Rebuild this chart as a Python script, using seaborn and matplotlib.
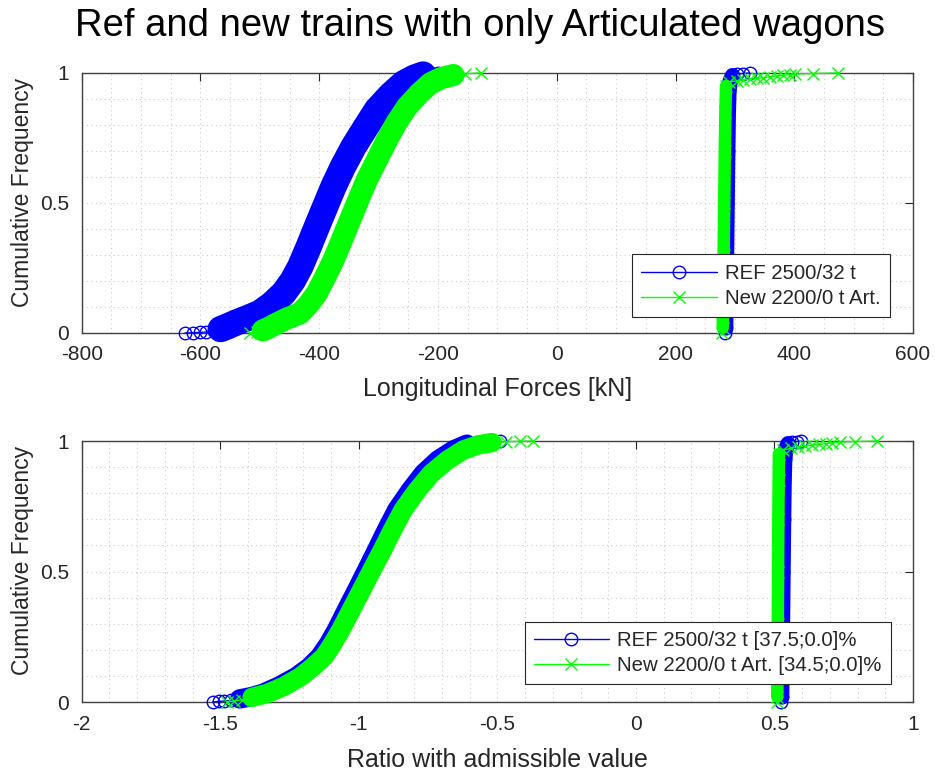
import matplotlib
matplotlib.use("Agg")
import matplotlib.pyplot as plt
from matplotlib.ticker import MultipleLocator, FuncFormatter
import pandas as pd
import seaborn as sns

# ---------------------------------------------------------------------------
# Cumulative frequency curves: value vs. cumulative frequency (0..1)
# ---------------------------------------------------------------------------
# Longitudinal forces [kN] - compression side
ref_comp_force = [-626, -612, -600, -590, -578, -566, -556, -540, -520, -500,
                  -480, -460, -445, -432, -418, -404, -390, -376, -360, -342,
                  -322, -303, -280, -258, -240, -225, -212, -200]
ref_comp_force_cf = [0.000, 0.001, 0.002, 0.004, 0.008, 0.015, 0.024, 0.040,
                     0.058, 0.077, 0.110, 0.153, 0.200, 0.255, 0.330, 0.409,
                     0.486, 0.563, 0.640, 0.717, 0.790, 0.858, 0.915, 0.960,
                     0.982, 0.994, 0.999, 1.000]
new_comp_force = [-516, -505, -495, -485, -471, -455, -443, -432, -418, -404,
                  -390, -376, -362, -348, -334, -320, -303, -286, -270, -252,
                  -232, -213, -195, -174, -155, -128]
new_comp_force_cf = [0.000, 0.004, 0.010, 0.020, 0.037, 0.055, 0.066, 0.076,
                     0.110, 0.153, 0.215, 0.280, 0.357, 0.435, 0.512, 0.588,
                     0.665, 0.742, 0.808, 0.870, 0.920, 0.960, 0.980, 0.992,
                     0.997, 1.000]

# Longitudinal forces [kN] - traction side
ref_trac_force = [284, 284.5, 285, 286, 287, 288, 289, 290, 292, 296, 303, 314, 325]
ref_trac_force_cf = [0.000, 0.020, 0.100, 0.300, 0.500, 0.700, 0.850, 0.930,
                     0.970, 0.990, 0.996, 0.998, 1.000]
new_trac_force = [279, 279.5, 280, 281, 282, 283, 284, 285, 290, 304, 314, 326,
                  337, 347, 359, 371, 381, 393, 402, 432, 474]
new_trac_force_cf = [0.000, 0.020, 0.100, 0.300, 0.500, 0.700, 0.850, 0.950,
                     0.965, 0.970, 0.973, 0.976, 0.979, 0.982, 0.985, 0.988,
                     0.991, 0.994, 0.996, 0.998, 1.000]

# Ratio with admissible value - compression side
ref_comp_ratio = [-1.528, -1.505, -1.485, -1.460, -1.430, -1.390, -1.347, -1.290,
                  -1.226, -1.180, -1.141, -1.110, -1.081, -1.045, -1.008, -0.972,
                  -0.936, -0.900, -0.863, -0.815, -0.767, -0.715, -0.658, -0.610,
                  -0.562, -0.525, -0.489]
ref_comp_ratio_cf = [0.000, 0.002, 0.004, 0.007, 0.012, 0.020, 0.033, 0.060,
                     0.097, 0.133, 0.174, 0.222, 0.276, 0.352, 0.429, 0.505,
                     0.582, 0.660, 0.736, 0.810, 0.876, 0.927, 0.966, 0.988,
                     0.997, 0.999, 1.000]
new_comp_ratio = [-1.475, -1.450, -1.420, -1.385, -1.330, -1.270, -1.210, -1.165,
                  -1.125, -1.095, -1.065, -1.028, -0.990, -0.953, -0.915, -0.878,
                  -0.840, -0.790, -0.738, -0.680, -0.622, -0.570, -0.520, -0.470,
                  -0.420, -0.370]
new_comp_ratio_cf = [0.000, 0.004, 0.009, 0.018, 0.033, 0.060, 0.097, 0.135,
                     0.174, 0.222, 0.276, 0.352, 0.429, 0.505, 0.582, 0.660,
                     0.736, 0.810, 0.876, 0.927, 0.966, 0.985, 0.994, 0.997,
                     0.999, 1.000]

# Ratio with admissible value - traction side
ref_trac_ratio = [0.525, 0.526, 0.527, 0.529, 0.531, 0.533, 0.535, 0.537,
                  0.541, 0.549, 0.562, 0.580, 0.597]
ref_trac_ratio_cf = [0.000, 0.020, 0.100, 0.300, 0.500, 0.700, 0.850, 0.930,
                     0.970, 0.990, 0.996, 0.998, 1.000]
new_trac_ratio = [0.510, 0.510, 0.511, 0.512, 0.513, 0.514, 0.515, 0.516,
                  0.530, 0.560, 0.585, 0.610, 0.635, 0.660, 0.685, 0.707,
                  0.735, 0.790, 0.870]
new_trac_ratio_cf = [0.000, 0.020, 0.100, 0.300, 0.500, 0.700, 0.850, 0.950,
                     0.965, 0.972, 0.976, 0.980, 0.984, 0.987, 0.990, 0.993,
                     0.996, 0.998, 1.000]

# Series labels
force_labels = ["REF 2500/32 t", "New 2200/0 t Art."]
ratio_labels = ["REF 2500/32 t [37.5;0.0]%", "New 2200/0 t Art. [34.5;0.0]%"]

REF_COLOR = (0.0, 0.0, 1.0)
NEW_COLOR = (0.0, 1.0, 0.0)

# ---------------------------------------------------------------------------
sns.set_style("white")
plt.rcParams["font.family"] = ["Liberation Sans", "DejaVu Sans"]
plt.rcParams["axes.unicode_minus"] = False

fig = plt.figure(figsize=(9.35, 7.74), dpi=100)
ax_top = fig.add_axes([0.0874, 0.5698, 0.8891, 0.3359])
ax_bot = fig.add_axes([0.0874, 0.0930, 0.8891, 0.3372])


def draw_curve(ax, x, cf, color, marker, band_lw, label=None,
               band_range=(0.01, 0.995)):
    df = pd.DataFrame({"value": x, "cf": cf})
    body = df[(df["cf"] >= band_range[0]) & (df["cf"] <= band_range[1])]
    # solid body where the samples are packed densely
    sns.lineplot(data=body, x="value", y="cf", sort=False, estimator=None,
                 ax=ax, color=color, linewidth=band_lw, solid_capstyle="round",
                 solid_joinstyle="round", legend=False, clip_on=False, zorder=3)
    # individual samples with markers
    sns.lineplot(data=df, x="value", y="cf", sort=False, estimator=None, ax=ax,
                 color=color, linewidth=1.0, marker=marker, markersize=9,
                 markerfacecolor="none", markeredgecolor=color,
                 markeredgewidth=1.0, label=label, legend=False,
                 clip_on=False, zorder=3)


def fmt_tick(v, pos):
    if abs(v) < 1e-9:
        return "0"
    return f"{round(v, 6):g}"


def style_axes(ax, xlim, xmajor, xminor, xlabel, xlabel_y):
    ax.set_xlim(*xlim)
    ax.set_ylim(0, 1)
    ax.xaxis.set_major_locator(MultipleLocator(xmajor))
    ax.xaxis.set_minor_locator(MultipleLocator(xminor))
    ax.yaxis.set_major_locator(MultipleLocator(0.5))
    ax.yaxis.set_minor_locator(MultipleLocator(0.1))
    ax.xaxis.set_major_formatter(FuncFormatter(fmt_tick))
    ax.yaxis.set_major_formatter(FuncFormatter(fmt_tick))
    ax.grid(which="both", color="0.80", linestyle=(0, (1, 3)), linewidth=0.8)
    ax.set_axisbelow(True)
    ax.tick_params(which="major", direction="in", length=6, width=0.8,
                   top=True, right=True, labelsize=15, colors="0.15", pad=9)
    ax.tick_params(which="minor", length=0)
    for s in ax.spines.values():
        s.set_visible(True)
        s.set_color("0.25")
        s.set_linewidth(1.0)
    ax.set_xlabel(xlabel, fontsize=18, color="0.15")
    ax.set_ylabel("Cumulative Frequency", fontsize=16.5, color="0.15")
    ax.xaxis.set_label_coords(0.5, xlabel_y)
    ax.yaxis.set_label_coords(-0.058, 0.542)


def add_legend(ax, anchor):
    h, l = ax.get_legend_handles_labels()
    leg = ax.legend(h, l, loc="lower right", bbox_to_anchor=anchor,
                    borderaxespad=0, fontsize=14.7, frameon=True,
                    fancybox=False, edgecolor="0.15", framealpha=1,
                    handlelength=3.7, handletextpad=0.4, borderpad=0.45,
                    labelspacing=0.3)
    leg.get_frame().set_linewidth(0.8)
    leg.set_zorder(10)


# Top: longitudinal forces
draw_curve(ax_top, ref_comp_force, ref_comp_force_cf, REF_COLOR, "o", 19, force_labels[0])
draw_curve(ax_top, ref_trac_force, ref_trac_force_cf, REF_COLOR, "o", 11,
           band_range=(0.01, 0.99))
draw_curve(ax_top, new_comp_force, new_comp_force_cf, NEW_COLOR, "x", 16, force_labels[1])
draw_curve(ax_top, new_trac_force, new_trac_force_cf, NEW_COLOR, "x", 9,
           band_range=(0.01, 0.96))
style_axes(ax_top, (-800, 600), 200, 50, "Longitudinal Forces [kN]", -0.169)
add_legend(ax_top, (0.9723, 0.0615))

# Bottom: ratio with admissible value
draw_curve(ax_bot, ref_comp_ratio, ref_comp_ratio_cf, REF_COLOR, "o", 14, ratio_labels[0])
draw_curve(ax_bot, ref_trac_ratio, ref_trac_ratio_cf, REF_COLOR, "o", 11,
           band_range=(0.01, 0.99))
draw_curve(ax_bot, new_comp_ratio, new_comp_ratio_cf, NEW_COLOR, "x", 14, ratio_labels[1])
draw_curve(ax_bot, new_trac_ratio, new_trac_ratio_cf, NEW_COLOR, "x", 9,
           band_range=(0.01, 0.96))
style_axes(ax_bot, (-2, 1), 0.5, 0.1, "Ratio with admissible value", -0.178)
add_legend(ax_bot, (0.9735, 0.069))

fig.text(0.513, 1 - 36 / 774, "Ref and new trains with only Articulated wagons",
         ha="center", va="baseline", fontsize=27.5, color="black")

fig.savefig("out.png", dpi=100)
